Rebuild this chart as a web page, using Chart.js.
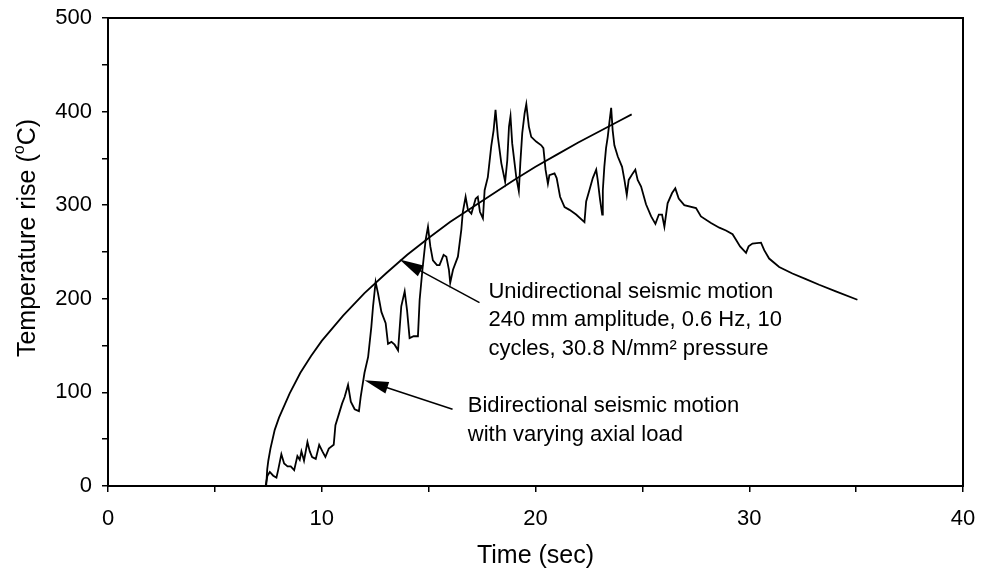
<!DOCTYPE html>
<html>
<head>
<meta charset="utf-8">
<script src="https://cdn.jsdelivr.net/npm/chart.js@4/dist/chart.umd.min.js"></script>
<style>
body { margin:0; background:#fff; }
canvas { display:block; }
</style>
</head>
<body>
<canvas id="c" width="981" height="575"></canvas>
<script>
// unidirectional test, smooth curve
var uniTime = [7.4, 7.45, 7.5, 7.6, 7.8, 8.0, 8.5, 9, 9.5, 10, 11, 12, 13, 14, 15, 16, 17, 18, 19, 20, 21, 22, 23, 24, 24.5];
var uniTemp = [0, 18, 27, 40, 60, 73, 99, 121, 139, 155, 182, 206, 227, 247, 265, 282, 297, 312, 327, 341, 354, 367, 379, 391, 397];

// bidirectional test, jagged curve
var biTime = [7.38, 7.46, 7.57, 7.73, 7.88, 7.96, 8.11, 8.24, 8.40, 8.55, 8.71, 8.86, 8.97, 9.05, 9.17, 9.33, 9.44, 9.55, 9.72, 9.88,
  10.03, 10.17, 10.33, 10.56, 10.64, 10.79, 10.95, 11.07, 11.23, 11.36, 11.54, 11.74, 11.82, 11.93, 12.0, 12.17, 12.32, 12.40, 12.52, 12.63,
  12.79, 12.99, 13.10, 13.26, 13.41, 13.57, 13.72, 13.88, 13.99, 14.11, 14.30, 14.50, 14.58, 14.71, 14.86, 14.97, 15.08, 15.20, 15.39, 15.51,
  15.70, 15.83, 15.95, 16.01, 16.14, 16.37, 16.53, 16.60, 16.73, 16.84, 17.0, 17.2, 17.3, 17.4, 17.54, 17.62, 17.77, 17.93, 18.04, 18.13,
  18.24, 18.40, 18.58, 18.68, 18.76, 18.83, 18.91, 19.10, 19.22, 19.29, 19.38, 19.49, 19.57, 19.69, 19.80, 20.03, 20.27, 20.37, 20.47, 20.58,
  20.65, 20.89, 20.99, 21.15, 21.36, 21.59, 21.90, 22.29, 22.37, 22.52, 22.68, 22.84, 22.91, 23.02, 23.12, 23.15, 23.22, 23.30, 23.38, 23.46,
  23.54, 23.61, 23.69, 23.85, 24.05, 24.16, 24.27, 24.36, 24.55, 24.67, 24.78, 24.94, 25.17, 25.41, 25.61, 25.77, 25.92, 26.03, 26.18, 26.39,
  26.54, 26.70, 26.96, 27.51, 27.74, 28.21, 28.6, 28.91, 29.22, 29.38, 29.57, 29.85, 29.97, 30.15, 30.55, 30.70, 30.93, 31.40, 32.02, 32.65,
  33.27, 34.05, 35.06];
var biTemp = [1, 11, 15, 11, 9, 17, 34, 24, 21, 21, 17, 32, 28, 37, 27, 47, 37, 31, 29, 44,
  37, 31, 40, 44, 65, 76, 88, 95, 108, 90, 82, 80, 95, 111, 121, 138, 170, 192, 218, 206,
  186, 174, 152, 154, 151, 145, 192, 208, 188, 158, 160, 160, 199, 231, 263, 277, 256, 241, 236, 236,
  247, 245, 231, 217, 231, 245, 274, 293, 309, 295, 291, 307, 309, 293, 286, 316, 330, 363, 380, 402,
  373, 345, 325, 348, 384, 395, 366, 330, 315, 345, 377, 398, 408, 384, 373, 368, 364, 361, 338, 323,
  332, 334, 329, 309, 298, 295, 290, 282, 304, 316, 329, 338, 327, 306, 290, 316, 341, 361, 373, 389,
  404, 380, 364, 352, 341, 327, 311, 327, 334, 338, 327, 320, 301, 288, 280, 290, 290, 277, 302, 313,
  318, 307, 300, 297, 288, 281, 276, 273, 269, 263, 256, 249, 256, 259, 260, 252, 243, 234, 227, 221,
  215, 208, 199];

var xTicks = [0, 10, 20, 30, 40];
var yTicks = [0, 100, 200, 300, 400, 500];

var FONT = '"Liberation Sans", Arial, sans-serif';

function toPoints(xs, ys) {
  var pts = [];
  for (var i = 0; i < xs.length; i++) {
    pts.push({x: xs[i], y: ys[i]});
  }
  return pts;
}

// labels + arrows, positions in data units
var notes = {
  uni: {tip: [13.64, 242], tail: [17.38, 196], at: [17.8, 201],
        lines: ['Unidirectional seismic motion', '240 mm amplitude, 0.6 Hz, 10', 'cycles, 30.8 N/mm\u00b2 pressure']},
  bi: {tip: [12.0, 113], tail: [16.12, 82], at: [16.83, 79],
       lines: ['Bidirectional seismic motion', 'with varying axial load']}
};

function drawArrow(ctx, x1, y1, x2, y2) {
  // from tail (x1,y1) to tip (x2,y2)
  var ang = Math.atan2(y2 - y1, x2 - x1);
  var len = 24, hw = 6;
  ctx.beginPath();
  ctx.moveTo(x1, y1);
  ctx.lineTo(x2 - Math.cos(ang) * len * 0.8, y2 - Math.sin(ang) * len * 0.8);
  ctx.stroke();
  ctx.beginPath();
  ctx.moveTo(x2, y2);
  ctx.lineTo(x2 - Math.cos(ang) * len - Math.sin(ang) * hw, y2 - Math.sin(ang) * len + Math.cos(ang) * hw);
  ctx.lineTo(x2 - Math.cos(ang) * len + Math.sin(ang) * hw, y2 - Math.sin(ang) * len - Math.cos(ang) * hw);
  ctx.closePath();
  ctx.fill();
}

var extras = {
  id: 'extras',
  afterDraw: function(chart) {
    var ctx = chart.ctx;
    var a = chart.chartArea;
    var xs = chart.scales.x, ys = chart.scales.y;
    ctx.save();
    ctx.strokeStyle = '#000';
    ctx.fillStyle = '#000';
    ctx.lineWidth = 2;
    ctx.strokeRect(a.left, a.top, a.right - a.left, a.bottom - a.top);

    // arrows
    ctx.lineWidth = 1.5;
    for (var k in notes) {
      var n = notes[k];
      drawArrow(ctx, xs.getPixelForValue(n.tail[0]), ys.getPixelForValue(n.tail[1]),
        xs.getPixelForValue(n.tip[0]), ys.getPixelForValue(n.tip[1]));
      ctx.font = '22px ' + FONT;
      ctx.textAlign = 'left';
      ctx.textBaseline = 'alphabetic';
      var tx = xs.getPixelForValue(n.at[0]);
      var ty = ys.getPixelForValue(n.at[1]);
      for (var i = 0; i < n.lines.length; i++) {
        ctx.fillText(n.lines[i], tx, ty + i * 28.5);
      }
    }

    // axis titles
    ctx.font = '25px ' + FONT;
    ctx.textAlign = 'center';
    ctx.textBaseline = 'middle';
    ctx.fillText('Time (sec)', (a.left + a.right) / 2, 556);

    ctx.translate(26, (a.top + a.bottom) / 2 - 14);
    ctx.rotate(-Math.PI / 2);
    var p1 = 'Temperature rise (', p2 = 'o', p3 = 'C)';
    ctx.font = '25px ' + FONT;
    var w1 = ctx.measureText(p1).width, w3 = ctx.measureText(p3).width;
    ctx.font = '16px ' + FONT;
    var w2 = ctx.measureText(p2).width;
    var x0 = -(w1 + w2 + w3) / 2;
    ctx.textAlign = 'left';
    ctx.textBaseline = 'alphabetic';
    ctx.font = '25px ' + FONT;
    ctx.fillText(p1, x0, 9);
    ctx.font = '16px ' + FONT;
    ctx.fillText(p2, x0 + w1, -2);
    ctx.font = '25px ' + FONT;
    ctx.fillText(p3, x0 + w1 + w2, 9);
    ctx.restore();
  }
};

new Chart(document.getElementById('c'), {
  type: 'scatter',
  data: {
    datasets: [
      {label: 'Unidirectional', data: toPoints(uniTime, uniTemp), showLine: true,
       borderColor: '#000', borderWidth: 1.8, pointRadius: 0, tension: 0, fill: false},
      {label: 'Bidirectional', data: toPoints(biTime, biTemp), showLine: true,
       borderColor: '#000', borderWidth: 1.8, pointRadius: 0, tension: 0, fill: false}
    ]
  },
  options: {
    responsive: false,
    devicePixelRatio: 1,
    animation: false,
    layout: {padding: {top: 18, right: 18, left: 0, bottom: 0}},
    plugins: {legend: {display: false}, tooltip: {enabled: false}},
    scales: {
      x: {
        type: 'linear', min: 0, max: 40,
        ticks: {stepSize: 5, color: '#000', padding: 14, maxRotation: 0,
          font: {family: FONT, size: 22},
          callback: function(v) { return xTicks.indexOf(v) >= 0 ? String(v) : ''; }},
        grid: {drawOnChartArea: false, color: '#000', tickLength: 6, lineWidth: 1.5},
        border: {color: '#000', width: 2},
        afterFit: function(s) { s.height = 89; s.paddingLeft = 0; s.paddingRight = 0; }
      },
      y: {
        min: 0, max: 500,
        ticks: {stepSize: 50, color: '#000', padding: 10,
          font: {family: FONT, size: 22},
          callback: function(v) { return yTicks.indexOf(v) >= 0 ? String(v) : ''; }},
        grid: {drawOnChartArea: false, color: '#000', tickLength: 6, lineWidth: 1.5},
        border: {color: '#000', width: 2},
        afterFit: function(s) { s.width = 108; s.paddingTop = 0; s.paddingBottom = 0; }
      }
    }
  },
  plugins: [extras]
});
</script>
</body>
</html>
